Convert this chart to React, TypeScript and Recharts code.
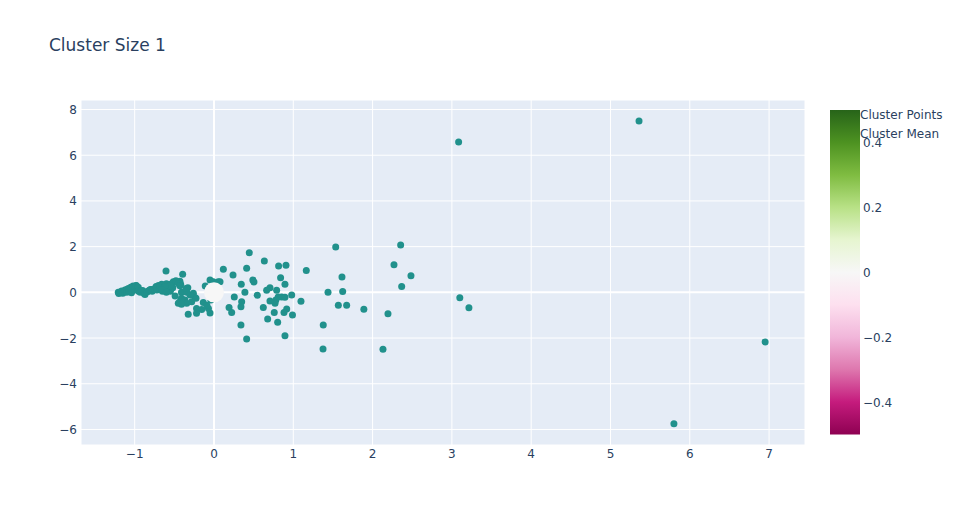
import React from "react";
import {
  ScatterChart,
  Scatter,
  XAxis,
  YAxis,
  CartesianGrid,
  Customized,
} from "recharts";

const TITLE = "Cluster Size 1";
const X_TICKS = [-1, 0, 1, 2, 3, 4, 5, 6, 7];
const Y_TICKS = [-6, -4, -2, 0, 2, 4, 6, 8];
const X_DOMAIN = [-1.677, 7.453];
const Y_DOMAIN = [-6.68, 8.416];
const LEGEND_LABELS = ["Cluster Points", "Cluster Mean"];
const COLORBAR_TICKS = [-0.4, -0.2, 0, 0.2, 0.4];
const COLORBAR_RANGE = [-0.5, 0.5];
const PIYG = [
  "#276419",
  "#4d9221",
  "#7fbc41",
  "#b8e186",
  "#e6f5d0",
  "#f7f7f7",
  "#fde0ef",
  "#f1b6da",
  "#de77ae",
  "#c51b7d",
  "#8e0152",
];

const outlierX = [3.085, 5.36, 3.1, 3.215, 6.95, 5.8];
const outlierY = [6.58, 7.5, -0.24, -0.67, -2.17, -5.75];

const rightX = [1.535, 2.354, 1.164, 2.27, 1.614, 2.484, 2.367, 1.438, 1.623, 1.097, 1.568, 1.673, 1.89, 2.194, 1.378, 1.375, 2.131];
const rightY = [1.98, 2.07, 0.96, 1.21, 0.67, 0.73, 0.25, 0.0, 0.04, -0.39, -0.56, -0.57, -0.74, -0.94, -1.43, -2.48, -2.49];

const midX = [0.445, 0.635, 0.118, 0.412, 0.815, 0.908, 0.24, 0.84, 0.49, 0.504, 0.344, 0.895, 0.076, 0.706, 0.664, 0.79, 0.39, 0.546, 0.256, 0.98, 0.81, 0.853, 0.895, 0.78, 0.77, 0.706, 0.349, 0.34, 0.622, 0.19, 0.223, 0.76, 0.917, 0.883, 0.99, 0.677, 0.803, 0.34, 0.895, 0.412];
const midY = [1.73, 1.37, 1.01, 1.05, 1.15, 1.18, 0.76, 0.64, 0.54, 0.45, 0.35, 0.35, 0.46, 0.2, 0.09, 0.09, 0.0, -0.13, -0.2, -0.12, -0.2, -0.2, -0.22, -0.34, -0.48, -0.38, -0.41, -0.63, -0.66, -0.66, -0.88, -0.88, -0.73, -0.88, -0.99, -1.17, -1.31, -1.43, -1.9, -2.04];

const nearX = [-0.605, -0.395, 0.054, -0.05, -0.11, -0.513, -0.43, -0.42, -0.33, -0.555, -0.62, -0.66, -0.6, -0.41, -0.345, -0.26, -0.24, -0.366, -0.49, -0.43, -0.39, -0.135, -0.04, -0.22, -0.155, -0.07, -0.05, -0.22, -0.325, -0.48, -0.45, -0.43, -0.353, -0.303, -0.227, -0.41, -0.344, -0.281, -0.45, -0.41, -0.09, -0.01];
const nearY = [0.93, 0.79, 0.46, 0.54, 0.28, 0.46, 0.49, 0.35, 0.2, 0.28, 0.25, 0.1, 0.0, 0.0, 0.0, -0.04, -0.23, -0.34, -0.16, -0.41, -0.38, -0.44, -0.34, -0.71, -0.75, -0.71, -0.9, -0.92, -0.96, 0.51, 0.39, 0.29, 0.17, -0.12, -0.26, -0.26, -0.48, -0.41, -0.48, -0.52, -0.56, 0.46];

const bandX = [-1.207, -1.2, -1.18, -1.164, -1.15, -1.13, -1.122, -1.1, -1.1, -1.08, -1.07, -1.05, -1.05, -1.04, -1.02, -1.0, -1.0, -0.984, -0.98, -0.96, -0.955, -0.95, -0.93, -0.912, -0.9, -0.88, -0.87, -0.85, -0.84, -0.82, -0.807, -0.8, -0.78, -0.766, -0.75, -0.73, -0.723, -0.72, -0.7, -0.68, -0.68, -0.66, -0.647, -0.65, -0.63, -0.618, -0.6, -0.59, -0.58, -0.57, -0.555, -0.55, -0.52];
const bandY = [0.0, -0.05, 0.02, 0.06, -0.04, 0.05, 0.1, 0.0, 0.12, 0.17, 0.05, 0.15, 0.22, -0.02, 0.28, 0.1, 0.25, 0.29, 0.3, 0.18, 0.22, 0.05, 0.0, 0.06, 0.08, -0.05, -0.09, 0.02, 0.03, 0.08, 0.1, 0.12, 0.05, 0.13, 0.15, 0.25, 0.2, 0.1, 0.3, 0.18, 0.28, 0.35, 0.32, 0.05, 0.2, 0.25, 0.38, 0.29, 0.15, 0.3, 0.35, 0.05, 0.2];

const meanX = [0];
const meanY = [0];

const zip = (xs: number[], ys: number[]) => xs.map((x, i) => ({ x, y: ys[i] }));

const pointsData = [
  ...zip(bandX, bandY),
  ...zip(nearX, nearY),
  ...zip(midX, midY),
  ...zip(rightX, rightY),
  ...zip(outlierX, outlierY),
];
const meanData = zip(meanX, meanY);

const FONT = "'DejaVu Sans', Verdana, sans-serif";
const TEXT_COLOR = "#2a3f5f";
const POINT_COLOR = "#21918c";

const fmt = (v: number) => (v < 0 ? "\u2212" + String(Math.abs(v)) : String(v));

// plot-area geometry (styling only)
const PLOT_LEFT = 81;
const PLOT_RIGHT = 805;
const PLOT_TOP = 100;
const PLOT_BOTTOM = 445;
const xPix = (v: number) => PLOT_LEFT + ((v - X_DOMAIN[0]) / (X_DOMAIN[1] - X_DOMAIN[0])) * (PLOT_RIGHT - PLOT_LEFT);
const yPix = (v: number) => PLOT_BOTTOM - ((v - Y_DOMAIN[0]) / (Y_DOMAIN[1] - Y_DOMAIN[0])) * (PLOT_BOTTOM - PLOT_TOP);
const ZERO_X = xPix(0);
const ZERO_Y = yPix(0);

const XTick = (props: any) => {
  const { x, payload } = props;
  return (
    <text x={x} y={457.5} textAnchor="middle" fontFamily={FONT} fontSize={12} fill={TEXT_COLOR}>
      {fmt(payload.value)}
    </text>
  );
};

const YTick = (props: any) => {
  const { y, payload } = props;
  return (
    <text x={77} y={y + 4.5} textAnchor="end" fontFamily={FONT} fontSize={12} fill={TEXT_COLOR}>
      {fmt(payload.value)}
    </text>
  );
};

const HLine = (props: any) => {
  const isZero = Math.abs(props.y1 - ZERO_Y) < 1.5;
  return (
    <line x1={props.x1} x2={props.x2} y1={props.y1} y2={props.y2} stroke="#ffffff" strokeWidth={isZero ? 2 : 1} />
  );
};
const VLine = (props: any) => {
  const isZero = Math.abs(props.x1 - ZERO_X) < 1.5;
  return (
    <line x1={props.x1} x2={props.x2} y1={props.y1} y2={props.y2} stroke="#ffffff" strokeWidth={isZero ? 2 : 1} />
  );
};

const PointShape = (props: any) => (
  <circle cx={props.cx} cy={props.cy} r={3.5} fill={POINT_COLOR} />
);
const MeanShape = (props: any) => (
  <circle cx={props.cx} cy={props.cy} r={10} fill="#f7f7f7" />
);

const CB_X = 830;
const CB_W = 30;
const CB_TOP = 110;
const CB_BOTTOM = 434.5;

const Overlay = () => {
  const [lo, hi] = COLORBAR_RANGE;
  const cbY = (v: number) => CB_TOP + ((hi - v) / (hi - lo)) * (CB_BOTTOM - CB_TOP);
  return (
    <g>
      <text x={49} y={51} fontFamily={FONT} fontSize={17} fill={TEXT_COLOR}>
        {TITLE}
      </text>
      <defs>
        <linearGradient id="piyg" x1="0" y1="0" x2="0" y2="1">
          {PIYG.map((c, i) => (
            <stop key={i} offset={i / (PIYG.length - 1)} stopColor={c} />
          ))}
        </linearGradient>
      </defs>
      <rect x={CB_X} y={CB_TOP} width={CB_W} height={CB_BOTTOM - CB_TOP} fill="url(#piyg)" />
      {COLORBAR_TICKS.map((t) => (
        <text key={t} x={863} y={cbY(t) + 4.5} fontFamily={FONT} fontSize={12} fill={TEXT_COLOR}>
          {fmt(t)}
        </text>
      ))}
      {LEGEND_LABELS.map((l, i) => (
        <text key={l} x={860} y={119 + i * 19} fontFamily={FONT} fontSize={12} fill={TEXT_COLOR}>
          {l}
        </text>
      ))}
    </g>
  );
};

export default function App() {
  return (
    <div style={{ position: "absolute", left: 0, top: 0, width: 966, height: 525, background: "#fff" }}>
      <ScatterChart
        width={966}
        height={525}
        margin={{ top: 100, right: 161, bottom: 0, left: 0 }}
      >
        <CartesianGrid
          stroke="#ffffff"
          fill="#E5ECF6"
          fillOpacity={1}
          horizontal={<HLine />}
          vertical={<VLine />}
        />
        <XAxis
          type="number"
          dataKey="x"
          domain={X_DOMAIN}
          ticks={X_TICKS}
          allowDataOverflow
          axisLine={false}
          tickLine={false}
          height={80}
          tick={<XTick />}
          interval={0}
        />
        <YAxis
          type="number"
          dataKey="y"
          domain={Y_DOMAIN}
          ticks={Y_TICKS}
          allowDataOverflow
          axisLine={false}
          tickLine={false}
          width={81}
          tick={<YTick />}
          interval={0}
        />
        <Scatter name="Cluster Points" data={pointsData} shape={<PointShape />} isAnimationActive={false} />
        <Scatter name="Cluster Mean" data={meanData} shape={<MeanShape />} isAnimationActive={false} />
        <Customized component={<Overlay />} />
      </ScatterChart>
    </div>
  );
}
